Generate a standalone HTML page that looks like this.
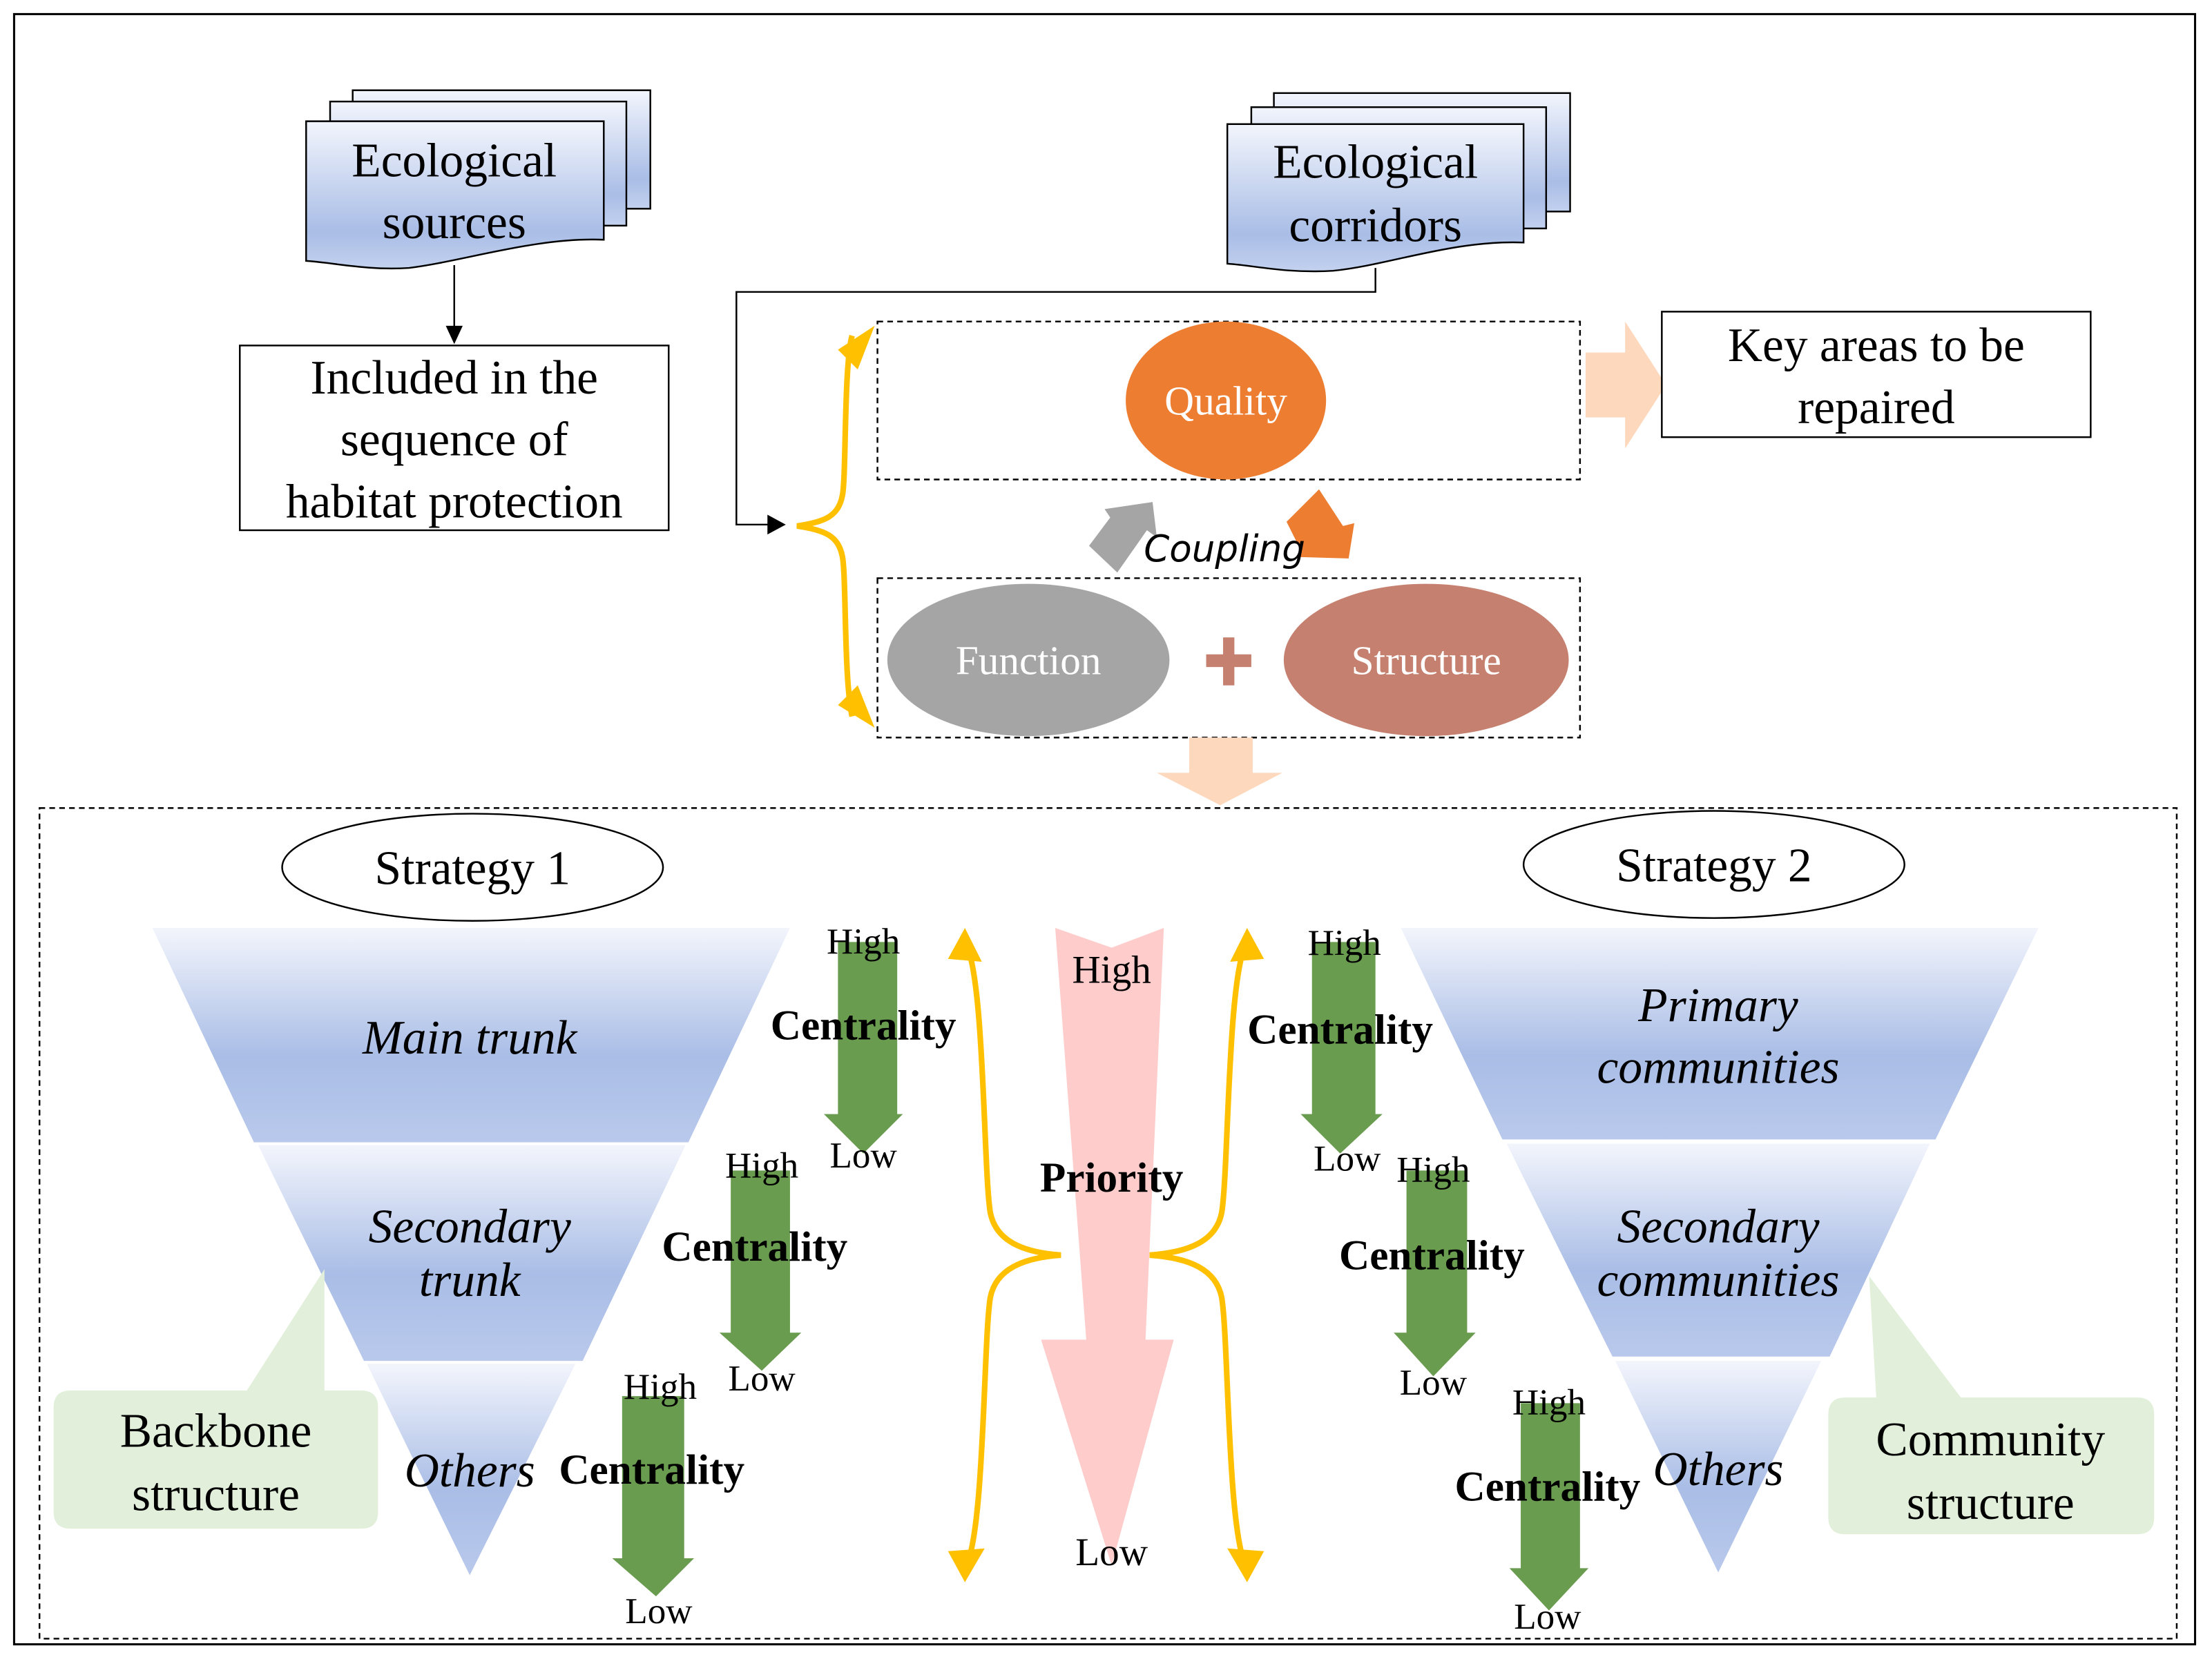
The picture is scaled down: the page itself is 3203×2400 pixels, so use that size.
<!DOCTYPE html>
<html><head><meta charset="utf-8"><style>html,body{margin:0;padding:0;background:#fff}svg{display:block}</style></head>
<body>
<svg width="3203" height="2400" viewBox="0 0 1568 1175" preserveAspectRatio="none" xmlns="http://www.w3.org/2000/svg" font-family="'Liberation Serif', serif">
<defs>
<linearGradient id="doc" x1="0" y1="0" x2="0" y2="1"><stop offset="0" stop-color="#f2f5fc"/><stop offset="0.75" stop-color="#a9bde6"/><stop offset="1" stop-color="#c3d1ef"/></linearGradient>
<linearGradient id="fun" x1="0" y1="0" x2="0" y2="1"><stop offset="0" stop-color="#f3f5fc"/><stop offset="0.6" stop-color="#a9bde6"/><stop offset="1" stop-color="#b9c9ec"/></linearGradient>
</defs>
<rect x="10" y="10" width="1546" height="1156" fill="none" stroke="#000" stroke-width="1.5"/>

<!-- Ecological sources -->
<rect x="250" y="64" width="211" height="84" fill="url(#doc)" stroke="#000" stroke-width="1.2"/>
<rect x="234" y="72" width="210" height="88" fill="url(#doc)" stroke="#000" stroke-width="1.2"/>
<path d="M217,86 H428 V170 C380,168 330,185 290,190 C260,192 235,186 217,185 Z" fill="url(#doc)" stroke="#000" stroke-width="1.2"/>
<text x="322" y="125" font-size="34" text-anchor="middle">Ecological</text>
<text x="322" y="169" font-size="34" text-anchor="middle">sources</text>
<line x1="322" y1="188" x2="322" y2="232" stroke="#000" stroke-width="1.2"/>
<polygon points="316,231 328,231 322,244" fill="#000"/>
<rect x="170" y="245" width="304" height="131" fill="#fff" stroke="#000" stroke-width="1.2"/>
<text x="322" y="279" font-size="34" text-anchor="middle">Included in the</text>
<text x="322" y="323" font-size="34" text-anchor="middle">sequence of</text>
<text x="322" y="367" font-size="34" text-anchor="middle">habitat protection</text>

<!-- Ecological corridors -->
<rect x="903" y="66" width="210" height="84" fill="url(#doc)" stroke="#000" stroke-width="1.2"/>
<rect x="887" y="76" width="209" height="86" fill="url(#doc)" stroke="#000" stroke-width="1.2"/>
<path d="M870,88 H1080 V172 C1030,170 985,188 945,192 C910,194 888,188 870,187 Z" fill="url(#doc)" stroke="#000" stroke-width="1.2"/>
<text x="975" y="126" font-size="34" text-anchor="middle">Ecological</text>
<text x="975" y="171" font-size="34" text-anchor="middle">corridors</text>
<polyline points="975,190 975,207 522,207 522,372 546,372" fill="none" stroke="#000" stroke-width="1.2"/>
<polygon points="544,365 557,372 544,379" fill="#000"/>

<!-- yellow brace top -->
<path d="M604,238 C598,260 600,340 597,352 C594,366 585,370 565,373 C585,376 594,380 597,394 C600,406 598,480 604,508" fill="none" stroke="#ffc000" stroke-width="4"/>
<polygon points="594,248 620,231 608,262" fill="#ffc000"/>
<polygon points="594,500 620,516 608,486" fill="#ffc000"/>

<!-- dashed boxes -->
<rect x="622" y="228" width="498" height="112" fill="none" stroke="#000" stroke-width="1.2" stroke-dasharray="4,3"/>
<rect x="622" y="410" width="498" height="113" fill="none" stroke="#000" stroke-width="1.2" stroke-dasharray="4,3"/>
<ellipse cx="869" cy="284" rx="71" ry="56" fill="#ed7d31"/>
<text x="869" y="294" font-size="29" fill="#fff" text-anchor="middle">Quality</text>
<ellipse cx="729" cy="468" rx="100" ry="54" fill="#a5a5a5"/>
<text x="729" y="478" font-size="29" fill="#fff" text-anchor="middle">Function</text>
<ellipse cx="1011" cy="468" rx="101" ry="54" fill="#c5806f"/>
<text x="1011" y="478" font-size="29" fill="#fff" text-anchor="middle">Structure</text>
<rect x="867" y="452" width="8" height="34" fill="#c5806f"/>
<rect x="855" y="464" width="32" height="9" fill="#c5806f"/>

<!-- coupling arrows -->
<polygon points="792,406 772,387 787,367 783,361 817,356 820,381 813,376" fill="#a5a5a5"/>
<polygon points="935,347 912,370 922,390 920,395 956,396 960,371 952,373" fill="#ed7d31"/>
<text x="868" y="398" font-size="26" font-style="italic" font-family="'DejaVu Sans', sans-serif" text-anchor="middle">Coupling</text>

<!-- peach arrows -->
<rect x="1124" y="250" width="30" height="46" fill="#fdd8bc"/>
<polygon points="1152,228 1181,273 1152,318" fill="#fdd8bc"/>
<rect x="843" y="523" width="45" height="27" fill="#fdd8bc"/>
<polygon points="820,548 909,548 865,571" fill="#fdd8bc"/>

<rect x="1178" y="221" width="304" height="89" fill="#fff" stroke="#000" stroke-width="1.2"/>
<text x="1330" y="256" font-size="34" text-anchor="middle">Key areas to be</text>
<text x="1330" y="300" font-size="34" text-anchor="middle">repaired</text>

<!-- bottom box -->
<rect x="28" y="573" width="1515" height="589" fill="none" stroke="#000" stroke-width="1.2" stroke-dasharray="4,3"/>
<ellipse cx="335" cy="615" rx="135" ry="38" fill="#fff" stroke="#000" stroke-width="1.2"/>
<text x="335" y="627" font-size="34" text-anchor="middle">Strategy 1</text>
<ellipse cx="1215" cy="613" rx="135" ry="38" fill="#fff" stroke="#000" stroke-width="1.2"/>
<text x="1215" y="625" font-size="34" text-anchor="middle">Strategy 2</text>

<!-- left funnel -->
<polygon points="108,658 560,658 488,810 180,810" fill="url(#fun)"/>
<polygon points="183,812 486,812 413,965 258,965" fill="url(#fun)"/>
<polygon points="260,967 408,967 333,1117" fill="url(#fun)"/>
<text x="333" y="747" font-size="34" font-style="italic" text-anchor="middle">Main trunk</text>
<text x="333" y="881" font-size="34" font-style="italic" text-anchor="middle">Secondary</text>
<text x="333" y="919" font-size="34" font-style="italic" text-anchor="middle">trunk</text>

<!-- right funnel -->
<polygon points="993,658 1445,658 1372,808 1065,808" fill="url(#fun)"/>
<polygon points="1068,811 1368,811 1297,962 1143,962" fill="url(#fun)"/>
<polygon points="1145,965 1291,965 1218,1115" fill="url(#fun)"/>
<text x="1218" y="724" font-size="34" font-style="italic" text-anchor="middle">Primary</text>
<text x="1218" y="768" font-size="34" font-style="italic" text-anchor="middle">communities</text>
<text x="1218" y="881" font-size="34" font-style="italic" text-anchor="middle">Secondary</text>
<text x="1218" y="919" font-size="34" font-style="italic" text-anchor="middle">communities</text>

<!-- callouts -->
<path d="M50,986 H175 L230,900 V986 H256 Q268,986 268,998 V1072 Q268,1084 256,1084 H50 Q38,1084 38,1072 V998 Q38,986 50,986 Z" fill="#e2efda"/>
<text x="153" y="1026" font-size="34" text-anchor="middle">Backbone</text>
<text x="153" y="1071" font-size="34" text-anchor="middle">structure</text>
<path d="M1308,991 H1330 L1325,905 L1390,991 H1515 Q1527,991 1527,1003 V1076 Q1527,1088 1515,1088 H1308 Q1296,1088 1296,1076 V1003 Q1296,991 1308,991 Z" fill="#e2efda"/>
<text x="1411" y="1032" font-size="34" text-anchor="middle">Community</text>
<text x="1411" y="1077" font-size="34" text-anchor="middle">structure</text>

<!-- pink priority arrow -->
<polygon points="748,658 788,672 825,658 812,950 832,950 788,1110 738,950 770,950" fill="#ffcccc"/>
<text x="788" y="697" font-size="28" text-anchor="middle">High</text>
<text x="788" y="845" font-size="30" font-weight="bold" text-anchor="middle">Priority</text>
<text x="788" y="1110" font-size="28" text-anchor="middle">Low</text>

<!-- yellow braces bottom -->
<path d="M684,668 C698,690 697,830 702,860 C706,880 725,888 752,890 C725,892 706,900 702,920 C697,950 698,1090 684,1112" fill="none" stroke="#ffc000" stroke-width="4"/>
<polygon points="672,680 684,658 696,682" fill="#ffc000"/>
<polygon points="672,1100 684,1122 698,1098" fill="#ffc000"/>
<path d="M884,668 C870,690 871,830 866,860 C862,880 843,888 815,890 C843,892 862,900 866,920 C871,950 870,1090 884,1112" fill="none" stroke="#ffc000" stroke-width="4"/>
<polygon points="872,682 884,658 896,680" fill="#ffc000"/>
<polygon points="870,1098 884,1122 896,1100" fill="#ffc000"/>

<!-- green arrows -->
<g fill="#6a9c4f">
<polygon points="594,668 636,668 636,790 640,790 612,818 584,790 594,790"/>
<polygon points="518,830 560,830 560,945 568,945 540,972 510,945 518,945"/>
<polygon points="441,990 485,990 485,1105 492,1105 465,1132 434,1105 441,1105"/>
<polygon points="930,668 975,668 975,790 980,790 950,818 922,790 930,790"/>
<polygon points="997,830 1040,830 1040,945 1046,945 1016,976 988,945 997,945"/>
<polygon points="1078,995 1120,995 1120,1112 1126,1112 1098,1142 1070,1112 1078,1112"/>
</g>
<g font-size="26" text-anchor="middle">
<text x="612" y="676">High</text><text x="612" y="828">Low</text>
<text x="540" y="835">High</text><text x="540" y="986">Low</text>
<text x="468" y="992">High</text><text x="467" y="1151">Low</text>
<text x="953" y="677">High</text><text x="955" y="830">Low</text>
<text x="1016" y="838">High</text><text x="1016" y="989">Low</text>
<text x="1098" y="1003">High</text><text x="1097" y="1155">Low</text>
</g>
<g font-size="30" font-weight="bold" text-anchor="middle">
<text x="612" y="737">Centrality</text>
<text x="535" y="894">Centrality</text>
<text x="462" y="1052">Centrality</text>
<text x="950" y="740">Centrality</text>
<text x="1015" y="900">Centrality</text>
<text x="1097" y="1064">Centrality</text>
</g>
<text x="333" y="1054" font-size="34" font-style="italic" text-anchor="middle">Others</text>
<text x="1218" y="1053" font-size="34" font-style="italic" text-anchor="middle">Others</text>
</svg>
</body></html>
